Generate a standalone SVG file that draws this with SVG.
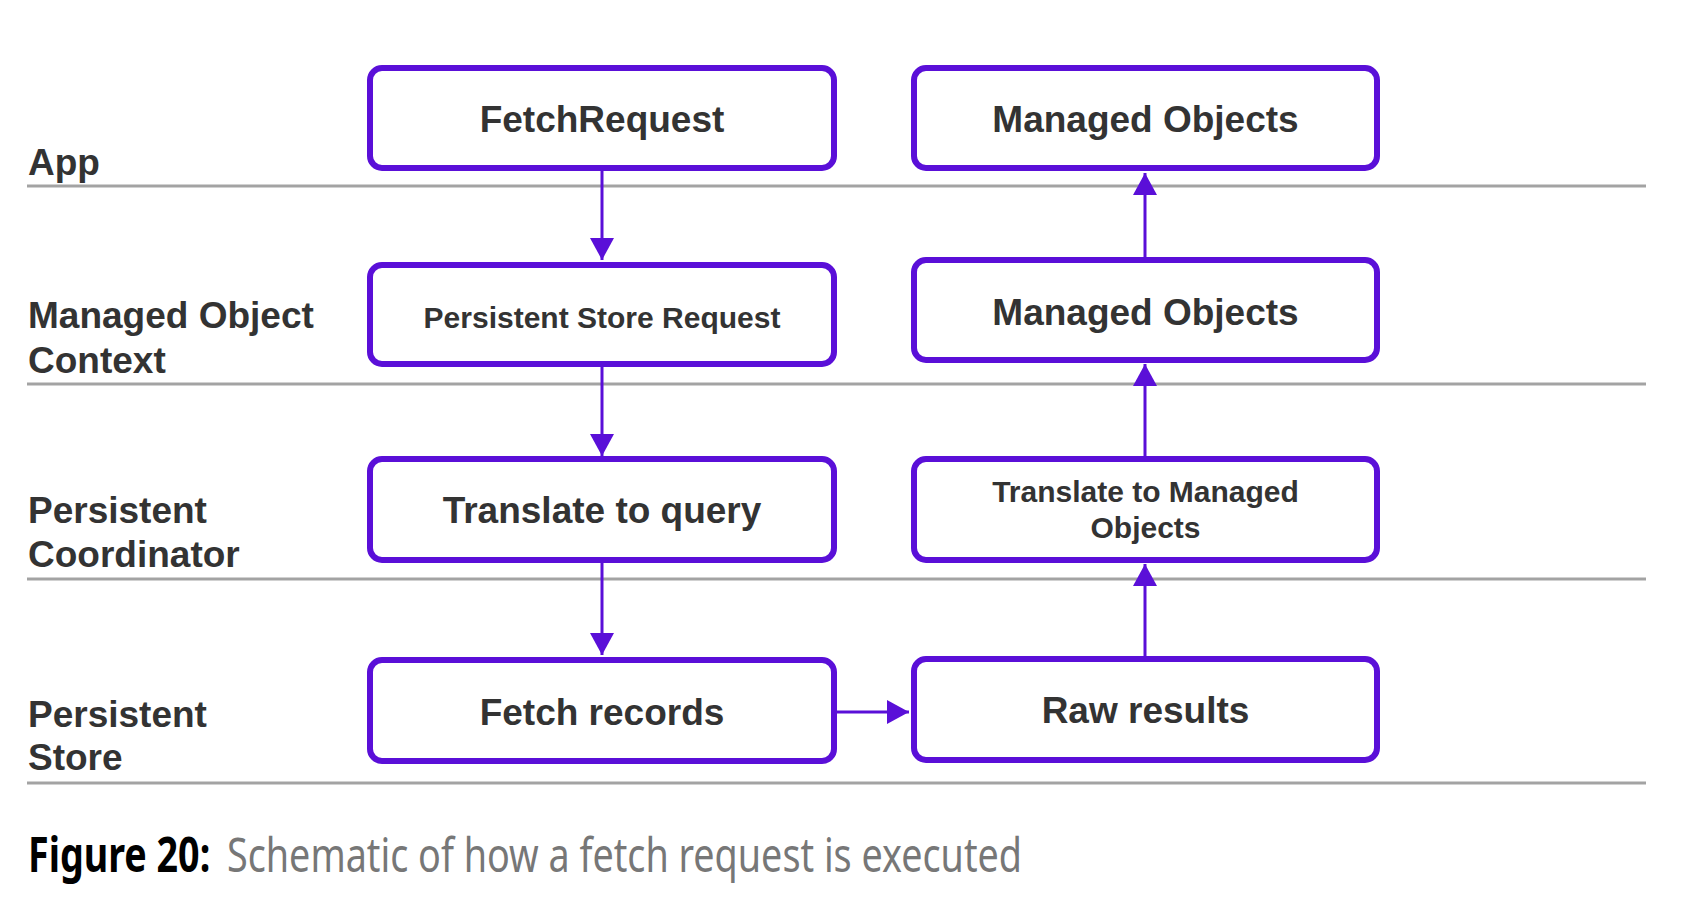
<svg xmlns="http://www.w3.org/2000/svg" width="1686" height="900" viewBox="0 0 1686 900">
  <defs>
    <style>
      .lane { stroke: #a3a3a3; stroke-width: 3; fill: none; }
      .box { fill: #ffffff; stroke: #5a0fd8; stroke-width: 6; }
      .edge { stroke: #5a0fd8; stroke-width: 3; fill: none; }
      .big { font-family: "Liberation Sans", Arial, sans-serif; font-weight: bold; font-size: 37px; fill: #333333; text-anchor: middle; }
      .small { font-family: "Liberation Sans", Arial, sans-serif; font-weight: bold; font-size: 30px; fill: #333333; text-anchor: middle; }
      .lbl { font-family: "Liberation Sans", Arial, sans-serif; font-weight: bold; font-size: 37px; fill: #333333; }
      .capb { font-family: "Noto Sans", "Open Sans", sans-serif; font-size: 48px; font-weight: bold; fill: #000000; }
      .capn { font-family: "Noto Sans", "Open Sans", sans-serif; font-size: 48px; font-weight: normal; fill: #777777; }
    </style>
    <marker id="ah" viewBox="0 0 22 24" refX="22" refY="12" markerWidth="22" markerHeight="24" markerUnits="userSpaceOnUse" orient="auto">
      <path d="M0,0 L22,12 L0,24 Z" fill="#5a0fd8"/>
    </marker>
  </defs>
  <rect width="1686" height="900" fill="#ffffff"/>

  <g id="lanes">
    <line class="lane" x1="27" y1="186" x2="1646" y2="186"/>
    <line class="lane" x1="27" y1="384" x2="1646" y2="384"/>
    <line class="lane" x1="27" y1="579" x2="1646" y2="579"/>
    <line class="lane" x1="27" y1="783" x2="1646" y2="783"/>
  </g>

  <g id="lane-labels">
    <text class="lbl" x="28" y="175">App</text>
    <text class="lbl" x="28" y="328">Managed Object</text>
    <text class="lbl" x="28" y="373">Context</text>
    <text class="lbl" x="28" y="523">Persistent</text>
    <text class="lbl" x="28" y="567">Coordinator</text>
    <text class="lbl" x="28" y="727">Persistent</text>
    <text class="lbl" x="28" y="770">Store</text>
  </g>

  <g id="connectors">
    <line class="edge" x1="602" y1="171" x2="602" y2="260" marker-end="url(#ah)"/>
    <line class="edge" x1="602" y1="367" x2="602" y2="456" marker-end="url(#ah)"/>
    <line class="edge" x1="602" y1="563" x2="602" y2="655" marker-end="url(#ah)"/>
    <line class="edge" x1="837" y1="712" x2="909" y2="712" marker-end="url(#ah)"/>
    <line class="edge" x1="1145" y1="656" x2="1145" y2="564" marker-end="url(#ah)"/>
    <line class="edge" x1="1145" y1="456" x2="1145" y2="364" marker-end="url(#ah)"/>
    <line class="edge" x1="1145" y1="257" x2="1145" y2="173" marker-end="url(#ah)"/>
  </g>

  <g id="fetch-request">
    <rect class="box" x="370" y="68" width="464" height="100" rx="12"/>
    <text class="big" x="602" y="132">FetchRequest</text>
  </g>
  <g id="persistent-store-request">
    <rect class="box" x="370" y="265" width="464" height="99" rx="12"/>
    <text class="small" x="602" y="328">Persistent Store Request</text>
  </g>
  <g id="translate-to-query">
    <rect class="box" x="370" y="459" width="464" height="101" rx="12"/>
    <text class="big" x="602" y="523">Translate to query</text>
  </g>
  <g id="fetch-records">
    <rect class="box" x="370" y="660" width="464" height="101" rx="12"/>
    <text class="big" x="602" y="725">Fetch records</text>
  </g>
  <g id="managed-objects-app">
    <rect class="box" x="914" y="68" width="463" height="100" rx="12"/>
    <text class="big" x="1145.5" y="132">Managed Objects</text>
  </g>
  <g id="managed-objects-context">
    <rect class="box" x="914" y="260" width="463" height="100" rx="12"/>
    <text class="big" x="1145.5" y="325">Managed Objects</text>
  </g>
  <g id="translate-to-managed-objects">
    <rect class="box" x="914" y="459" width="463" height="101" rx="12"/>
    <text class="small" x="1145.5" y="502">Translate to Managed</text>
    <text class="small" x="1145.5" y="538">Objects</text>
  </g>
  <g id="raw-results">
    <rect class="box" x="914" y="659" width="463" height="101" rx="12"/>
    <text class="big" x="1145.5" y="723">Raw results</text>
  </g>

  <g id="caption">
    <text class="capb" transform="translate(28 872) scale(0.785 1)">Figure 20:</text>
    <text class="capn" transform="translate(227 872) scale(0.786 1)">Schematic of how a fetch request is executed</text>
  </g>
</svg>
